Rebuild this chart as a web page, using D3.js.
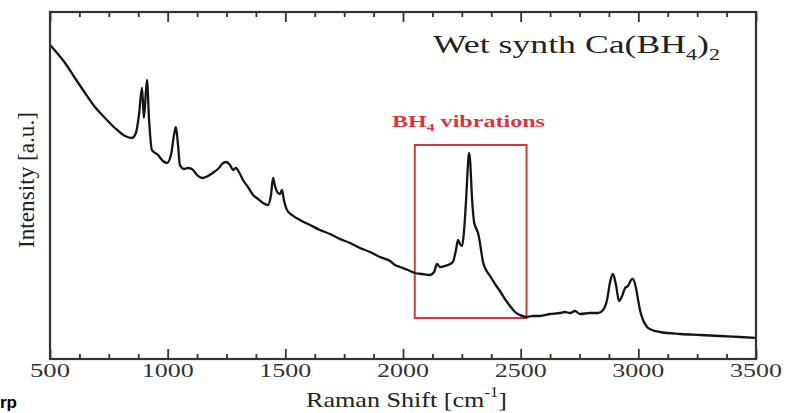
<!DOCTYPE html>
<html><head><meta charset="utf-8">
<script src="https://cdn.jsdelivr.net/npm/d3@7/dist/d3.min.js"></script>
<style>html,body{margin:0;padding:0;background:#fff;overflow:hidden}</style>
</head><body><svg id="c" width="786" height="413"></svg>
<script>
// Raman shift (cm^-1) and intensity (a.u.)
const shift = [500,530,564,606,649,691,734,776,819,848,865,878,891,899,912,921,933,959,980,997,1014,1027,1035,1044,1052,1069,1086,1103,1125,1146,1171,1197,1218,1231,1248,1265,1278,1290,1303,1320,1341,1363,1384,1405,1426,1439,1448,1456,1469,1477,1486,1494,1507,1528,1562,1605,1647,1690,1732,1775,1817,1860,1902,1945,1966,1987,2021,2051,2081,2115,2132,2145,2157,2178,2200,2212,2225,2234,2242,2251,2259,2268,2276,2280,2285,2293,2302,2310,2319,2327,2340,2353,2370,2391,2412,2433,2455,2476,2497,2523,2552,2582,2625,2667,2688,2710,2731,2752,2795,2829,2850,2867,2880,2892,2905,2918,2931,2944,2956,2969,2977,2990,2999,3007,3020,3037,3058,3092,3177,3262,3347,3432,3500];
const intensity = [314,306,296,281,266,252,241,231,223,221,226,244,271,241,279,239,209,204,198,196,204,224,232,214,194,190,191,190,184,181,183,187,191,195,197,194,189,191,187,179,172,164,160,156,154,164,181,173,166,165,169,159,149,144,139,134,129,125,120,116,111,107,102,98,94,92,89,86,85,84,87,95,92,93,95,97,109,119,115,113,127,159,194,206,199,162,137,131,126,116,97,89,83,75,68,60,53,47,44,42,43,43,45,46,47,46,48,45,46,46,49,59,77,85,74,58,63,71,73,79,80,71,59,49,39,32,29,27,25,24,23,22,21];
const majorTicks = [500,1000,1500,2000,2500,3000,3500];
const minorTicks = [625,750,875,1125,1250,1375,1625,1750,1875,2125,2250,2375,2625,2750,2875,3125,3250,3375];
const xDomain = [500,3500];
const yDomain = [0,347];
const boxRange = [2050,2525];
const boxIntensity = [41,214];

const svg = d3.select("#c");
const L=50,R=756,T=12,B=359;
const x = d3.scaleLinear().domain(xDomain).range([L,R]);
const y = d3.scaleLinear().domain(yDomain).range([B,T]);
const serif = "'Liberation Serif','Times New Roman',serif";

// red box
svg.append("rect")
  .attr("x", x(boxRange[0])).attr("y", y(boxIntensity[1]))
  .attr("width", x(boxRange[1])-x(boxRange[0]))
  .attr("height", y(boxIntensity[0])-y(boxIntensity[1]))
  .attr("fill","none").attr("stroke","#d9363e").attr("stroke-width",2);

// spectrum
const pts = shift.map((s,i)=>[s,intensity[i]]);
svg.append("path").datum(pts)
  .attr("d", d3.line().x(d=>x(d[0])).y(d=>y(d[1])).curve(d3.curveMonotoneX))
  .attr("fill","none").attr("stroke","#151515").attr("stroke-width",2.3)
  .attr("stroke-linejoin","round");

// axes (ticks inward)
function ax(g, gen){ g.call(gen); g.select(".domain").remove(); g.selectAll("text").remove();
  g.selectAll("line").attr("stroke","#333").attr("stroke-width",1.8); }
svg.append("g").attr("transform",`translate(0,${B})`).call(g=>ax(g,d3.axisBottom(x).tickValues(majorTicks).tickSize(-10)));
svg.append("g").attr("transform",`translate(0,${B})`).call(g=>ax(g,d3.axisBottom(x).tickValues(minorTicks).tickSize(-5)));
svg.append("g").attr("transform",`translate(0,${T})`).call(g=>ax(g,d3.axisTop(x).tickValues(majorTicks).tickSize(-10)));
svg.append("g").attr("transform",`translate(0,${T})`).call(g=>ax(g,d3.axisTop(x).tickValues(minorTicks).tickSize(-5)));
svg.append("rect").attr("x",L).attr("y",T).attr("width",R-L).attr("height",B-T)
  .attr("fill","none").attr("stroke","#333").attr("stroke-width",2.2);

// tick labels
svg.append("g").selectAll("text").data(majorTicks).join("text")
  .attr("x", d=>x(d)).attr("y", 377).attr("text-anchor","middle")
  .attr("font-family",serif).attr("font-size",18).attr("fill","#333")
  .attr("textLength", d=>String(d).length===3?40:52).attr("lengthAdjust","spacingAndGlyphs")
  .text(d=>d);

// x title
const xt = svg.append("text").attr("x",306).attr("y",407)
  .attr("font-family",serif).attr("font-size",22).attr("fill","#222")
  .attr("textLength",201).attr("lengthAdjust","spacingAndGlyphs");
xt.append("tspan").text("Raman Shift [cm");
xt.append("tspan").attr("dy",-10).attr("font-size",14).text("-1");
xt.append("tspan").attr("dy",10).text("]");

// y title
svg.append("text").attr("transform","translate(34,180) scale(1.4,1) rotate(-90)")
  .attr("text-anchor","middle").attr("font-family",serif).attr("font-size",17).attr("fill","#222")
  .attr("textLength",136).attr("lengthAdjust","spacingAndGlyphs")
  .text("Intensity [a.u.]");

// chart title
const tt = svg.append("text").attr("x",433).attr("y",53)
  .attr("font-family",serif).attr("font-size",26).attr("fill","#222")
  .attr("textLength",287).attr("lengthAdjust","spacingAndGlyphs");
tt.append("tspan").text("Wet synth Ca(BH");
tt.append("tspan").attr("dy",7).attr("font-size",16).text("4");
tt.append("tspan").attr("dy",-7).text(")");
tt.append("tspan").attr("dy",7).attr("font-size",16).text("2");

// annotation
const an = svg.append("text").attr("x",392).attr("y",127)
  .attr("font-family",serif).attr("font-size",17).attr("font-weight","bold").attr("fill","#d9363e")
  .attr("textLength",153).attr("lengthAdjust","spacingAndGlyphs");
an.append("tspan").text("BH");
an.append("tspan").attr("dy",4).attr("font-size",11).text("4");
an.append("tspan").attr("dy",-4).text(" vibrations");

// fragment at bottom-left
svg.append("text").attr("x",0).attr("y",408)
  .attr("font-family","'Liberation Sans',Arial,sans-serif").attr("font-size",17).attr("font-weight","bold")
  .attr("fill","#000").text("rp");
</script></body></html>
